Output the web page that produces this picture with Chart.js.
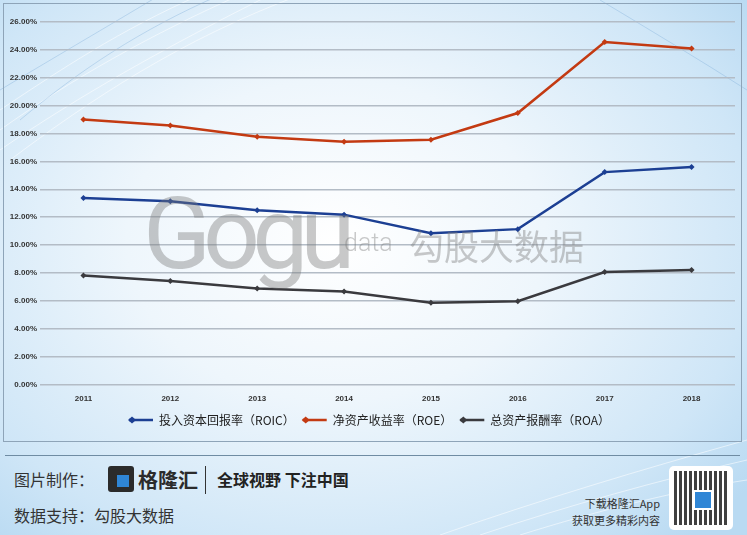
<!DOCTYPE html>
<html>
<head>
<meta charset="utf-8">
<script src="https://cdn.jsdelivr.net/npm/chart.js@4.4.1/dist/chart.umd.min.js"></script>
<style>
  html, body { margin: 0; padding: 0; }
  body {
    width: 747px; height: 535px; overflow: hidden; position: relative;
    background: radial-gradient(ellipse 70% 75% at 45% 45%, #ffffff 0%, #eef6fc 40%, #cfe6f7 80%, #b9daf2 100%);
    font-family: "Noto Sans CJK SC", "Noto Sans", sans-serif;
  }
  #bg { position: absolute; left: 0; top: 0; }
  #panel {
    position: absolute; left: 3px; top: 3px; width: 737px; height: 437px;
    border: 1px solid #8ea4b8;
  }
  #wrap { position: absolute; left: 0; top: 0; width: 737px; height: 437px; }
  .wm { position: absolute; color: rgba(120,120,120,0.4); white-space: nowrap; }
  #sep { position: absolute; left: 5px; top: 455px; width: 735px; height: 1px; background: #6f8ca3; }
  .foot { position: absolute; color: #333; font-size: 16px; white-space: nowrap; }
  .small { position: absolute; color: #333; font-size: 11px; text-align: right; white-space: nowrap; }
  #logo { position: absolute; left: 108px; top: 466px; width: 26px; height: 26px; background: #2b2b2b; border-radius: 3px; }
  #logo:after { content: ""; position: absolute; left: 9px; top: 9px; width: 12px; height: 12px; background: #2f86d6; }
  #qr {
    position: absolute; left: 669px; top: 466px; width: 64px; height: 64px; background: #fff; border-radius: 5px;
  }
  #qrin {
    position: absolute; left: 5px; top: 5px; width: 54px; height: 54px;
    background:
      repeating-linear-gradient(90deg, rgba(0,0,0,0.75) 0 3px, transparent 3px 5px),
      repeating-linear-gradient(0deg, rgba(255,255,255,0.8) 0 2px, transparent 2px 5px);
  }
  #qrc { position: absolute; left: 24px; top: 24px; width: 16px; height: 16px; background: #2f86d6; border: 2px solid #fff; }
</style>
</head>
<body>
<svg id="bg" width="747" height="535">
  <g fill="none" stroke="rgba(255,255,255,0.55)" stroke-width="1">
    <path d="M0,110 C60,70 120,30 200,-5"/>
    <path d="M0,130 C70,80 150,35 240,-5"/>
    <path d="M0,150 C80,95 170,45 270,-5"/>
    <path d="M10,160 C90,100 180,40 300,-5"/>
    <path d="M440,535 C540,500 640,470 747,440"/>
    <path d="M480,535 C570,505 660,480 747,460"/>
    <path d="M520,535 C600,510 680,490 747,480"/>
  </g>
  <g fill="none" stroke="rgba(120,170,215,0.35)" stroke-width="1">
    <path d="M0,90 C50,60 110,25 160,-5"/>
    <path d="M20,120 C80,70 140,30 220,-5"/>
    <path d="M600,0 C650,30 700,60 747,90"/>
  </g>
</svg>
<div id="panel"><div id="wrap"><canvas id="chart"></canvas></div></div>

<div class="wm" style="left:143px; top:175px; font: 400 100px Roboto, sans-serif; letter-spacing:-8px;">Gogu</div>
<div class="wm" style="left:344px; top:228px; font: 300 25px Roboto, sans-serif;">data</div>
<div class="wm" style="left:409px; top:219px; font: 400 35px 'Noto Sans CJK SC', sans-serif;">勾股大数据</div>

<div id="sep"></div>
<div class="foot" style="left:14px; top:467px;">图片制作：</div>
<div id="logo"></div>
<div class="foot" style="left:138px; top:465px; font-size:20px; font-weight:700; color:#2b2b2b;">格隆汇</div>
<div style="position:absolute; left:205px; top:466px; width:1px; height:28px; background:#333;"></div>
<div class="foot" style="left:217px; top:467px; font-weight:700; color:#222;">全球视野 下注中国</div>
<div class="foot" style="left:14px; top:503px;">数据支持：勾股大数据</div>
<div class="small" style="right:87px; top:495px;">下载格隆汇App</div>
<div class="small" style="right:87px; top:512px;">获取更多精彩内容</div>
<div id="qr"><div id="qrin"></div><div id="qrc"></div></div>

<script>
// 年份
const years = ['2011', '2012', '2013', '2014', '2015', '2016', '2017', '2018'];

// 数据 (%)
const roic = [13.38, 13.14, 12.49, 12.18, 10.85, 11.14, 15.23, 15.60];
const roe  = [19.00, 18.58, 17.76, 17.40, 17.55, 19.47, 24.57, 24.10];
const roa  = [7.82, 7.41, 6.88, 6.66, 5.85, 5.97, 8.06, 8.20];

const seriesNames = ['投入资本回报率（ROIC）', '净资产收益率（ROE）', '总资产报酬率（ROA）'];
const seriesColors = ['#1c3f93', '#c33a12', '#3a3a3e'];

const narrow = "'Liberation Sans Narrow', 'Arial Narrow', 'Liberation Sans', sans-serif";

function makeDataset(i, values) {
    return {
        label: seriesNames[i],
        data: values,
        borderColor: seriesColors[i],
        backgroundColor: seriesColors[i],
        borderWidth: 2.5,
        pointStyle: 'rectRot',
        pointRadius: 3,
        pointBorderWidth: 0,
        tension: 0
    };
}

// Diamond di ujung kiri penanda legend
const legendDiamond = {
    id: 'legendDiamond',
    afterDraw(chart) {
        const boxes = chart.legend.legendHitBoxes;
        const ctx = chart.ctx;
        boxes.forEach((b, i) => {
            const cy = b.top + b.height / 2;
            ctx.save();
            ctx.fillStyle = seriesColors[i];
            ctx.beginPath();
            ctx.moveTo(b.left - 1, cy);
            ctx.lineTo(b.left + 3, cy - 3.5);
            ctx.lineTo(b.left + 7, cy);
            ctx.lineTo(b.left + 3, cy + 3.5);
            ctx.closePath();
            ctx.fill();
            ctx.restore();
        });
    }
};

const ctx = document.getElementById('chart').getContext('2d');
new Chart(ctx, {
    type: 'line',
    data: {
        labels: years,
        datasets: [makeDataset(0, roic), makeDataset(1, roe), makeDataset(2, roa)]
    },
    options: {
        responsive: true,
        maintainAspectRatio: false,
        animation: false,
        layout: { padding: { left: 0, right: 6, top: 18, bottom: 5 } },
        plugins: {
            legend: {
                position: 'bottom',
                labels: {
                    usePointStyle: true,
                    pointStyle: 'line',
                    pointStyleWidth: 24,
                    boxHeight: 6,
                    padding: 8,
                    color: '#222',
                    font: { family: "'Noto Sans CJK SC', sans-serif", size: 12 },
                    generateLabels(chart) {
                        const items = Chart.defaults.plugins.legend.labels.generateLabels(chart);
                        items.forEach((it, i) => {
                            it.lineWidth = 2.5;
                            it.strokeStyle = seriesColors[i];
                        });
                        return items;
                    }
                }
            },
            tooltip: { enabled: false }
        },
        scales: {
            x: {
                offset: true,
                grid: { display: false },
                border: { display: false },
                ticks: {
                    color: '#333',
                    font: { family: narrow, size: 8, weight: 'bold' },
                    padding: 2
                }
            },
            y: {
                min: 0,
                max: 26,
                afterFit(scale) { scale.width = 36; },
                grid: { color: '#b3bcc6', lineWidth: 1.5, drawTicks: false },
                border: { display: false },
                ticks: {
                    stepSize: 2,
                    padding: 3,
                    color: '#333',
                    font: { family: narrow, size: 8, weight: 'bold' },
                    callback: v => v.toFixed(2) + '%'
                }
            }
        }
    },
    plugins: [legendDiamond]
});
</script>
</body>
</html>
